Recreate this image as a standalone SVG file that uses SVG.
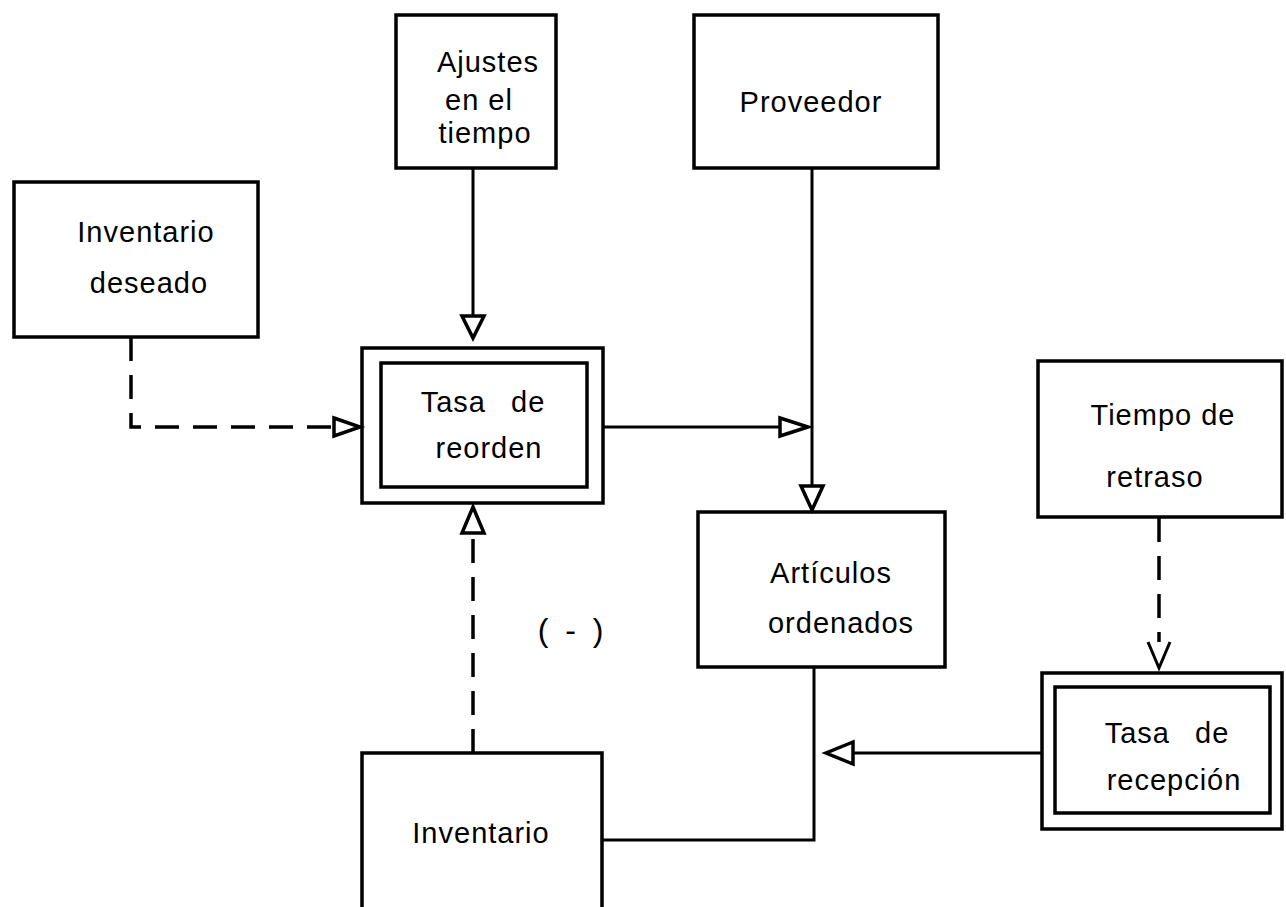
<svg xmlns="http://www.w3.org/2000/svg" width="1286" height="907" viewBox="0 0 1286 907">
<style>
.box{fill:none;stroke:#000;stroke-width:3.5}
.ln{fill:none;stroke:#000;stroke-width:3}
.dash{fill:none;stroke:#000;stroke-width:3.5;stroke-dasharray:24 14}
.ah{fill:#fff;stroke:#000;stroke-width:3.5;stroke-linejoin:miter}
text{font-family:"Liberation Sans",Arial,sans-serif;font-size:29px;fill:#000;text-anchor:middle;letter-spacing:1px}
</style>
<rect width="1286" height="907" fill="#fff"/>
<g id="inventario-deseado">
<rect class="box" x="14" y="182" width="244" height="155"/>
<text x="146" y="242">Inventario</text>
<text x="149" y="293">deseado</text>
</g>
<g id="ajustes">
<rect class="box" x="396" y="15" width="160" height="153"/>
<text x="488" y="72">Ajustes</text>
<text x="479" y="110">en el</text>
<text x="485" y="143">tiempo</text>
</g>
<g id="proveedor">
<rect class="box" x="694" y="15" width="244" height="153"/>
<text x="811" y="112">Proveedor</text>
</g>
<g id="tasa-reorden">
<rect class="box" x="362" y="348" width="241" height="155"/>
<rect class="box" x="381" y="363" width="206" height="124"/>
<text x="483" y="412" style="word-spacing:16px">Tasa de</text>
<text x="489" y="458">reorden</text>
</g>
<g id="tiempo-retraso">
<rect class="box" x="1038" y="361" width="244" height="156"/>
<text x="1163" y="425">Tiempo de</text>
<text x="1155" y="487">retraso</text>
</g>
<g id="articulos">
<rect class="box" x="698" y="512" width="247" height="155"/>
<text x="831" y="583">Artículos</text>
<text x="841" y="633">ordenados</text>
</g>
<g id="tasa-recepcion">
<rect class="box" x="1042" y="673" width="240" height="156"/>
<rect class="box" x="1055" y="687" width="215" height="126"/>
<text x="1167" y="743" style="word-spacing:16px">Tasa de</text>
<text x="1174" y="790">recepción</text>
</g>
<g id="inventario">
<path class="box" d="M362,910 V753 H602 V910"/>
<text x="481" y="843">Inventario</text>
</g>
<g id="signo">
<text x="571" y="641" style="font-size:32px;word-spacing:6px">( - )</text>
</g>
<g id="connectors">
<path class="dash" d="M131,337 V427 H334"/>
<polygon class="ah" points="334,418 360,427 334,436"/>
<path class="ln" d="M473,168 V316"/>
<polygon class="ah" points="462,316 484,316 473,338"/>
<path class="ln" d="M603,427 H780"/>
<polygon class="ah" points="780,418 808,427 780,436"/>
<path class="ln" d="M812,168 V486"/>
<polygon class="ah" points="801,486 823,486 812,510"/>
<path class="dash" d="M473,753 V533"/>
<polygon class="ah" points="462,533 484,533 473,507"/>
<path class="dash" d="M1159,518 V642"/>
<polyline class="ln" points="1148,642 1159,668 1170,642"/>
<path class="ln" d="M1042,753 H853"/>
<polygon class="ah" points="853,742 853,764 826,753"/>
<path class="ln" d="M814,667 V840 H602"/>
</g>
</svg>
